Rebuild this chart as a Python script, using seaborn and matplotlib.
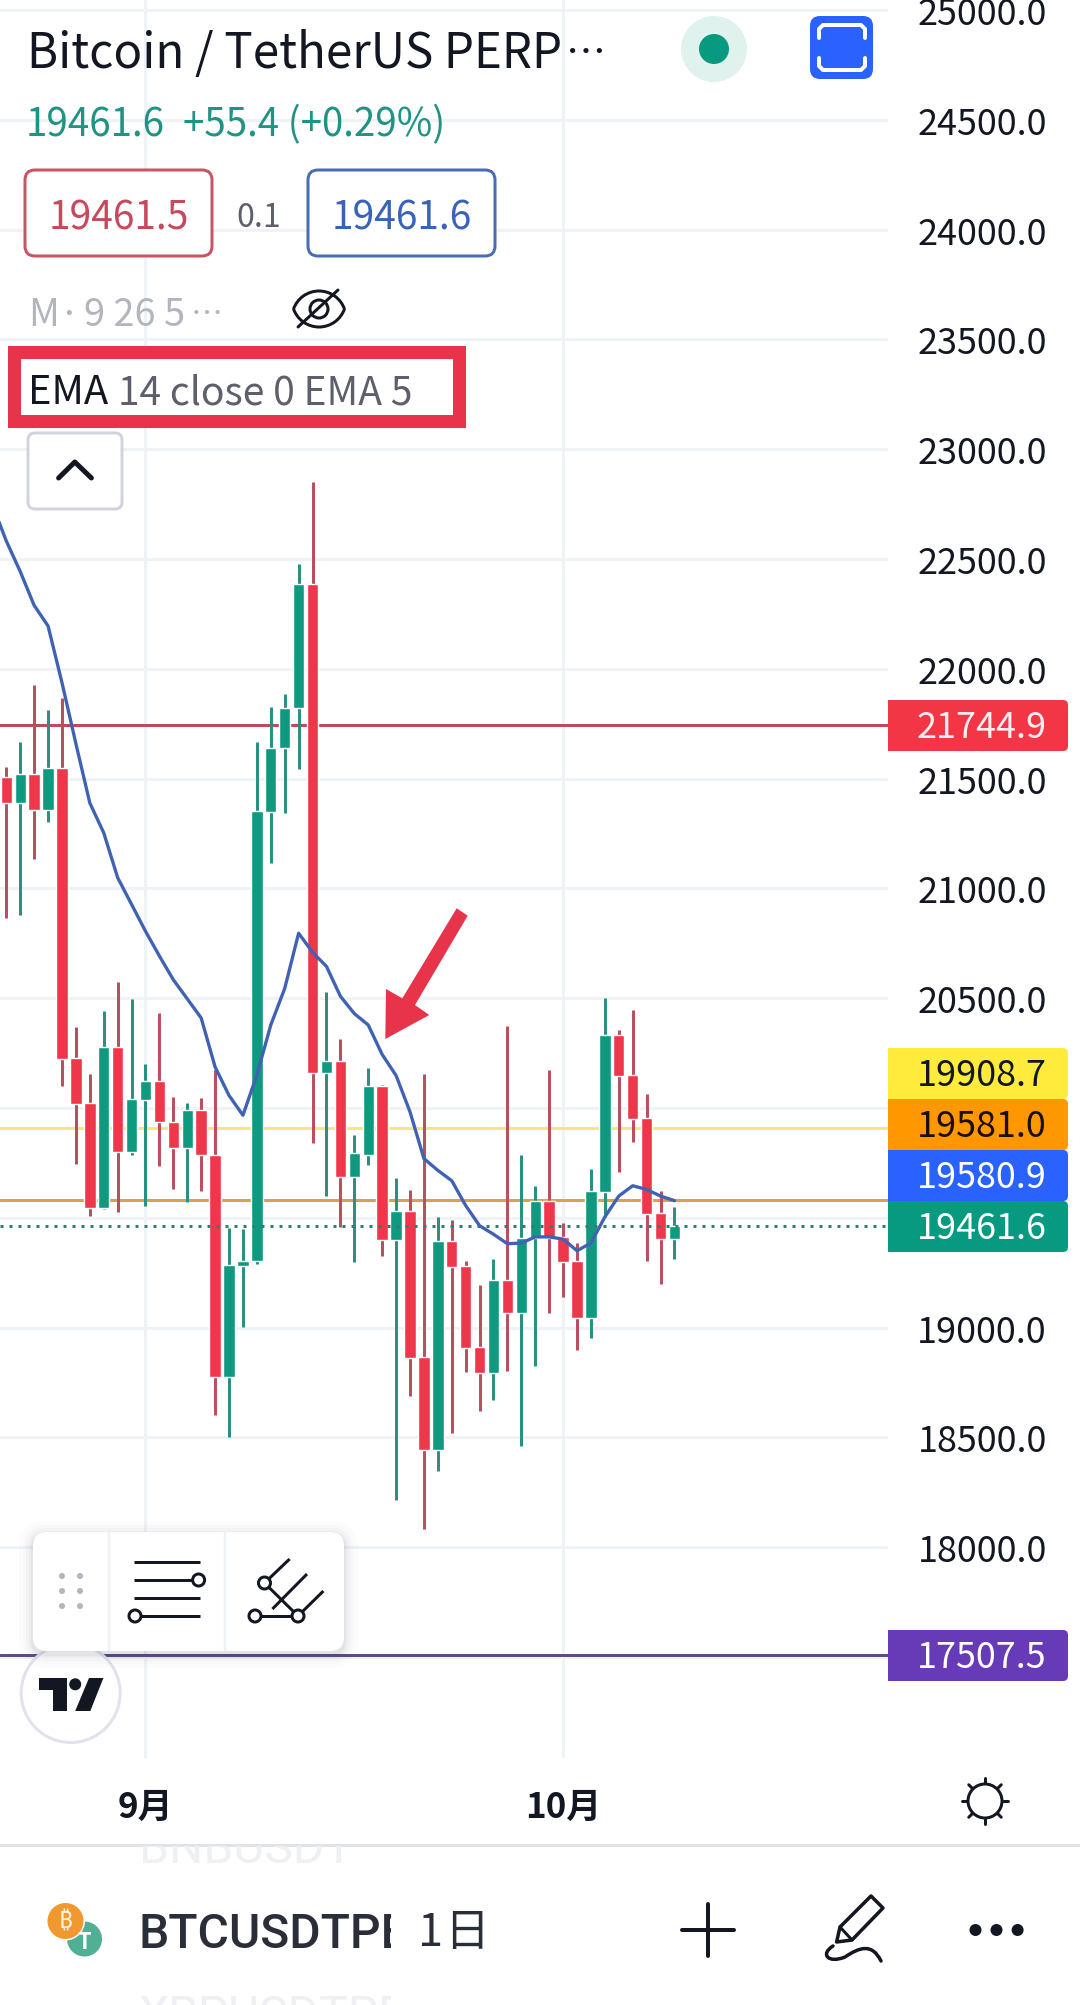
import numpy as np
import pandas as pd
import matplotlib.pyplot as plt
import seaborn as sns
from matplotlib.patches import Circle, FancyBboxPatch, Polygon, Rectangle, Arc, PathPatch
from matplotlib.path import Path
from matplotlib.ticker import FixedFormatter, FixedLocator
from matplotlib.transforms import Bbox

# daily candles (index 10 = 1 Sep, index 40 = 1 Oct)
opens = [21509, 21387, 21523, 21357, 21549, 20228, 20023, 19545, 20278, 19800,
         20037, 20122, 19938, 19819, 19990, 19784, 18777, 19281, 19304, 21350,
         21638, 21821, 22387, 20159, 20216, 19688, 19788, 20100, 19399, 19530,
         18866, 18444, 19394, 19281, 18911, 18795, 19216, 19068, 19408, 19578,
         19411, 19303, 19045, 19617, 20331, 20148, 19953, 19521, 19404]
closes = [21387, 21523, 21357, 21549, 20224, 20020, 19545, 20278, 19800, 20041,
          20122, 19938, 19819, 19990, 19784, 18777, 19284, 19305, 21354, 21641,
          21822, 22387, 20159, 20216, 19688, 19795, 20100, 19399, 19530, 18863,
          18444, 19394, 19277, 18908, 18795, 19216, 19068, 19408, 19578, 19408,
          19300, 19045, 19622, 20331, 20146, 19951, 19517, 19404, 19461.6]
highs = [21554, 21667, 21927, 21814, 21868, 20369, 20155, 20441, 20575, 20498,
         20200, 20431, 20049, 20021, 20044, 20171, 19455, 19449, 21667, 21828,
         21885, 22479, 22852, 20530, 20312, 19876, 20181, 20105, 19683, 19626,
         20153, 19504, 19490, 19303, 19194, 19312, 20375, 19786, 19646, 20173,
         19476, 19387, 19721, 20500, 20354, 20446, 20066, 19622, 19547]
lows = [20866, 20878, 21136, 21302, 20101, 19745, 19509, 19540, 19528, 19785,
        19556, 19737, 19632, 19574, 19623, 18603, 18504, 19005, 19288, 21115,
        21342, 21542, 19841, 19600, 19458, 19300, 19742, 19326, 18214, 18690,
        18084, 18349, 18519, 18798, 18620, 18671, 18803, 18462, 18824, 19068,
        19141, 18899, 18953, 19504, 19709, 19847, 19303, 19199, 19312]

# EMA 14, first point is one day left of the visible candles
ema_days = list(range(-1, 49))
ema_values = [22747, 22582, 22443, 22289, 22195, 21937, 21659, 21389, 21253, 21049,
              20927, 20805, 20692, 20584, 20497, 20410, 20187, 20057, 19967, 20150,
              20378, 20544, 20796, 20709, 20645, 20509, 20430, 20378, 20244, 20148,
              19983, 19770, 19716, 19669, 19556, 19464, 19425, 19382, 19385, 19413,
              19413, 19403, 19350, 19385, 19504, 19599, 19646, 19629, 19599, 19578]

level_prices = [21744.9, 19908.7, 19581.0, 17507.5]
level_colors = ["#c2495a", "#f5e87a", "#d9a24e", "#5f4b8b"]
last_price = 19461.6

tick_prices = [25000, 24500, 24000, 23500, 23000, 22500, 22000, 21500, 21000,
               20500, 20000, 19500, 19000, 18500, 18000, 17500]
tick_labels = ["25000.0", "24500.0", "24000.0", "23500.0", "23000.0", "22500.0", "22000.0",
               "21500.0", "21000.0", "20500.0", "", "", "19000.0", "18500.0", "18000.0", ""]
month_days = [10, 40]
month_labels = ["9月", "10月"]

tag_values = ["21744.9", "19908.7", "19581.0", "19580.9", "19461.6", "17507.5"]
tag_colors = ["#f23645", "#ffeb3b", "#ff9800", "#2962ff", "#089981", "#673ab7"]
tag_text_colors = ["#ffeef0", "#131722", "#1a0f00", "#ffffff", "#ffffff", "#ffffff"]
tag_tops = [701, 1049, 1100, 1151, 1202, 1631]

INK = "#131722"
UP, DOWN = "#0f9a80", "#ee374b"
UP_WICK, DOWN_WICK = "#2c8f80", "#b9505f"

sns.set_theme(style="white")
plt.rcParams["font.family"] = ["Noto Sans CJK JP", "DejaVu Sans"]

W, H = 1080, 2006
fig = plt.figure(figsize=(W / 100, H / 100), dpi=100, facecolor="white")


def px(v):
    return v * 0.72


# price axis calibrated on the gridlines: 25000 at y=11, 109.8 px per 500
CHART_R, CHART_B = 888, 1759
ax = fig.add_axes([0, 1 - CHART_B / H, CHART_R / W, CHART_B / H])
price_per_px = 500 / 109.8
ax.set_ylim(25000 - (CHART_B - 11) * price_per_px, 25000 + 11 * price_per_px)
ax.set_xlim(-6.3 / 13.92, (CHART_R - 6.3) / 13.92)

candles = pd.DataFrame({"day": range(len(opens)), "open": opens, "close": closes,
                        "high": highs, "low": lows})
candles["dir"] = np.where(candles["close"] >= candles["open"], "up", "down")

wicks = candles.melt(id_vars=["day", "dir"], value_vars=["high", "low"], value_name="price")
sns.lineplot(data=wicks, x="day", y="price", hue="dir", units="day", estimator=None,
             palette={"up": UP_WICK, "down": DOWN_WICK}, legend=False, ax=ax,
             lw=px(3), zorder=3, solid_capstyle="butt")

for direction, color in [("up", UP), ("down", DOWN)]:
    part = candles[candles["dir"] == direction]
    ax.bar(part["day"], (part["open"] - part["close"]).abs(),
           bottom=part[["open", "close"]].min(axis=1), width=0.82, color=color, zorder=3.2)

for price, color in zip(level_prices, level_colors):
    ax.axhline(price, color=color, lw=px(3), zorder=2)
ax.axhline(last_price, color="#2c8073", lw=px(3), ls=(0, (1, 2)), zorder=3.5)

sns.lineplot(x=ema_days, y=ema_values, color="#3f62b3", lw=px(3.3), ax=ax, zorder=4,
             estimator=None, sort=False)

ax.set_xlabel("")
ax.set_ylabel("")
ax.yaxis.set_major_locator(FixedLocator(tick_prices))
ax.yaxis.set_major_formatter(FixedFormatter(tick_labels))
ax.yaxis.tick_right()
ax.set_xticks(month_days, month_labels, fontweight="bold")
ax.grid(True, color="#f0f3f6", lw=px(3), zorder=0)
ax.set_axisbelow(True)
ax.tick_params(axis="y", length=0, pad=px(159), labelsize=px(36), labelcolor=INK)
for lab in ax.get_yticklabels():
    lab.set_ha("right")
ax.tick_params(axis="x", length=0, pad=px(31), labelsize=px(35), labelcolor=INK)
for side in ax.spines.values():
    side.set_visible(False)

# everything else is app chrome, drawn in pixel coordinates on a top layer
ui = fig.add_axes([0, 0, 1, 1], zorder=5)
ui.set_xlim(0, W)
ui.set_ylim(H, 0)
ui.axis("off")
ui.patch.set_alpha(0)


def label(x, y, s, size, color=INK, ha="left", va="center", **kw):
    return ui.text(x, y, s, fontsize=px(size), color=color, ha=ha, va=va, **kw)


def clipped(text, x0, y0, x1, y1):
    # clip box in display pixels, y flipped
    text.set_clip_box(Bbox([[x0, H - y1], [x1, H - y0]]))
    text.set_clip_on(True)


def rounded(x0, y0, x1, y1, r, **kw):
    p = FancyBboxPatch((x0 + r, y0 + r), x1 - x0 - 2 * r, y1 - y0 - 2 * r,
                       boxstyle=f"round,pad={r},rounding_size={r}", **kw)
    ui.add_patch(p)
    return p


def seg(xs, ys, lw=3, color=INK, **kw):
    ui.plot(xs, ys, color=color, lw=px(lw), solid_capstyle="round", **kw)


def ring(x, y, r, lw=3, zorder=3):
    ui.add_patch(Circle((x, y), r, fc="white", ec=INK, lw=px(lw), zorder=zorder))


# header
label(27, 54, "Bitcoin / TetherUS PERP", 47.5)
label(566, 54, "…", 40)
label(26, 125, "19461.6", 38.5, "#1f9484")
label(183, 125, "+55.4 (+0.29%)", 38.5, "#1f9484")

rounded(25, 171, 212, 257, 10, fc="white", ec="#c65565", lw=px(3))
rounded(308, 171, 495, 257, 10, fc="white", ec="#4a6cb5", lw=px(3))
label(118.5, 218, "19461.5", 39, "#c8495b", ha="center")
label(259, 218, "0.1", 32, "#5d606b", ha="center")
label(401.5, 218, "19461.6", 39, "#3a62b8", ha="center")

label(28, 315, "M·", 38, "#b2b5be")
label(84, 315, "9 26 5", 38, "#b2b5be")
label(191, 315, "…", 32, "#b2b5be")

# eye with a slash
ex, ey = 319, 310
ui.add_patch(Arc((ex, ey + 9), 54, 54, theta1=199, theta2=341, color=INK, lw=px(3)))
ui.add_patch(Arc((ex, ey - 9), 54, 54, theta1=19, theta2=161, color=INK, lw=px(3)))
ui.add_patch(Circle((ex, ey), 9, fc="none", ec=INK, lw=px(3)))
seg([298, 338], [328, 291], lw=3)

# red highlight box round the EMA legend
ui.add_patch(Rectangle((13.5, 352.5), 445, 69, fc="white", ec="#e8344a", lw=px(13), joinstyle="miter"))
label(28, 393, "EMA", 40)
label(118, 393, "14 close 0 EMA 5", 39, "#5d606b")

rounded(28, 434, 122, 510, 7, fc="white", ec="#d1d4dc", lw=px(3))
seg([58.6, 74.8, 91.4], [479, 463, 479], lw=5)

# top right buttons
ui.add_patch(Circle((714, 50), 33, fc="#dff2ee", ec="none"))
ui.add_patch(Circle((714, 50), 15, fc="#089981", ec="none"))
rounded(810, 17, 873, 80, 10, fc="#2962ff", ec="none")
seg([819, 819, 823, 861, 865, 865], [39, 30, 26, 26, 30, 39], lw=4, color="white")
seg([819, 819, 823, 861, 865, 865], [59, 67, 71, 71, 67, 59], lw=4, color="white")

# price tags on the scale
for value, color, text_color, top in zip(tag_values, tag_colors, tag_text_colors, tag_tops):
    rounded(888, top, 1068, top + 51, 5, fc=color, ec="none", zorder=2)
    ui.add_patch(Rectangle((888, top), 10, 51, fc=color, ec="none", zorder=2))
    label(1047, top + 27, value, 36, text_color, ha="right", zorder=3)

# hand drawn arrow
ui.add_patch(Polygon([(456.7, 909.3), (467.7, 916.7), (415, 1006), (429.3, 1016), (385.3, 1040),
                      (386, 990), (402.3, 999.3)], closed=True, fc="#e8344a", ec="none"))

# tradingview badge
ui.add_patch(Circle((70.7, 1694), 49.5, fc="white", ec="#e0e3eb", lw=px(3), zorder=2))
ui.add_patch(Polygon([(39, 1679), (66.5, 1679), (66.5, 1712), (53.4, 1712), (53.4, 1691), (39, 1691)],
                     fc=INK, ec="none", zorder=2))
ui.add_patch(Circle((75.2, 1685.3), 6, fc=INK, ec="none", zorder=2))
ui.add_patch(Polygon([(89, 1679), (103.4, 1679), (90.3, 1712), (75.2, 1712)], fc=INK, ec="none", zorder=2))

# floating toolbar with a soft shadow
for grow, alpha in [(14, 0.012), (10, 0.018), (7, 0.025), (4, 0.035), (2, 0.05)]:
    rounded(33 - grow, 1533 - grow + 3, 344 + grow, 1652 + grow + 3, 14 + grow, fc="#3a3f55",
            ec="none", alpha=alpha, zorder=3)
rounded(33, 1533, 344, 1652, 14, fc="white", ec="none", zorder=3.1)
ui.plot([108.6, 108.6], [1534, 1651], color="#f0f3f6", lw=px(2.5), zorder=3.2)
ui.plot([225, 225], [1534, 1651], color="#f0f3f6", lw=px(2.5), zorder=3.2)
for dx in (62, 80):
    for dy in (1577, 1592, 1607):
        ui.add_patch(Circle((dx, dy), 3, fc="#b2b5be", ec="none", zorder=3.3))
for ly in (1563, 1581, 1599, 1617):
    ui.plot([134, 200], [ly, ly], color=INK, lw=px(3), zorder=3.3, solid_capstyle="butt")
ring(198.6, 1581, 6, zorder=3.4)
ring(135, 1617, 6, zorder=3.4)
for xs, ys in [([255, 298], [1617, 1617]), ([264.5, 298], [1584, 1617]), ([264.5, 289.6], [1584, 1560]),
               ([272.4, 307], [1610, 1575]), ([298, 323.4], [1617, 1592])]:
    ui.plot(xs, ys, color=INK, lw=px(3), zorder=3.3, solid_capstyle="butt")
ring(264.5, 1584, 6, zorder=3.4)
ring(255, 1617, 6, zorder=3.4)
ring(298, 1617, 6, zorder=3.4)

# sun icon
ui.add_patch(Circle((985, 1802), 17, fc="none", ec=INK, lw=px(3)))
for a in np.deg2rad(np.arange(0, 360, 45)):
    seg([985 + 18 * np.cos(a), 985 + 23 * np.cos(a)], [1802 + 18 * np.sin(a), 1802 + 23 * np.sin(a)], lw=3)

# bottom bar, symbol list scrolls under the separator so its rows are cut
ui.plot([0, W], [1846, 1846], color="#e0e3e6", lw=px(3))
clipped(label(139, 1863, "BNBUSDT", 48, "#eef0f3", va="baseline", family="Roboto"), 130, 1847, 430, 1877)
clipped(label(139, 2030, "XRPUSDTPE", 48, "#eef0f3", va="baseline", family="Roboto"), 130, 1990, 391, 2006)
clipped(label(139, 1948, "BTCUSDTPE", 48, "#2a2e39", va="baseline", family="Roboto", fontweight="medium"),
        130, 1890, 391, 1970)
label(418, 1933, "1", 45, "#2a2e39")
label(444, 1933, "日", 45, "#2a2e39")

ui.add_patch(Circle((84.5, 1940), 17.5, fc="#50af95", ec="none"))
label(84.5, 1943, "T", 22, "white", ha="center", fontweight="bold")
ui.add_patch(Circle((65.5, 1922), 19.5, fc="white", ec="none"))
ui.add_patch(Circle((65.5, 1922), 18, fc="#f0992e", ec="none"))
label(65.5, 1923, "₿", 24, "#fff3e0", ha="center",
      family=["Noto Sans", "Inter", "Roboto", "Open Sans", "Lato", "Liberation Sans", "DejaVu Sans"])

seg([708, 708], [1905, 1957], lw=4)
seg([682, 734], [1931, 1931], lw=4)

# pencil
ui.add_patch(Polygon([(840, 1928), (871, 1897), (883, 1909), (852, 1941), (836.6, 1943)], closed=True,
                     fc="none", ec=INK, lw=px(3.5), joinstyle="round"))
seg([840, 852], [1928, 1941], lw=3)
squiggle = Path([(833, 1947), (820, 1955), (828, 1965), (845, 1958), (860, 1948), (872, 1944), (881, 1962)],
                [Path.MOVETO, Path.CURVE4, Path.CURVE4, Path.CURVE4, Path.CURVE4, Path.CURVE4, Path.CURVE4])
ui.add_patch(PathPatch(squiggle, fc="none", ec=INK, lw=px(3.5), capstyle="round"))

for dot_x in (975.5, 996.5, 1017.6):
    ui.add_patch(Circle((dot_x, 1931), 6, fc=INK, ec="none"))

fig.savefig("out.png", dpi=100, facecolor="white")
